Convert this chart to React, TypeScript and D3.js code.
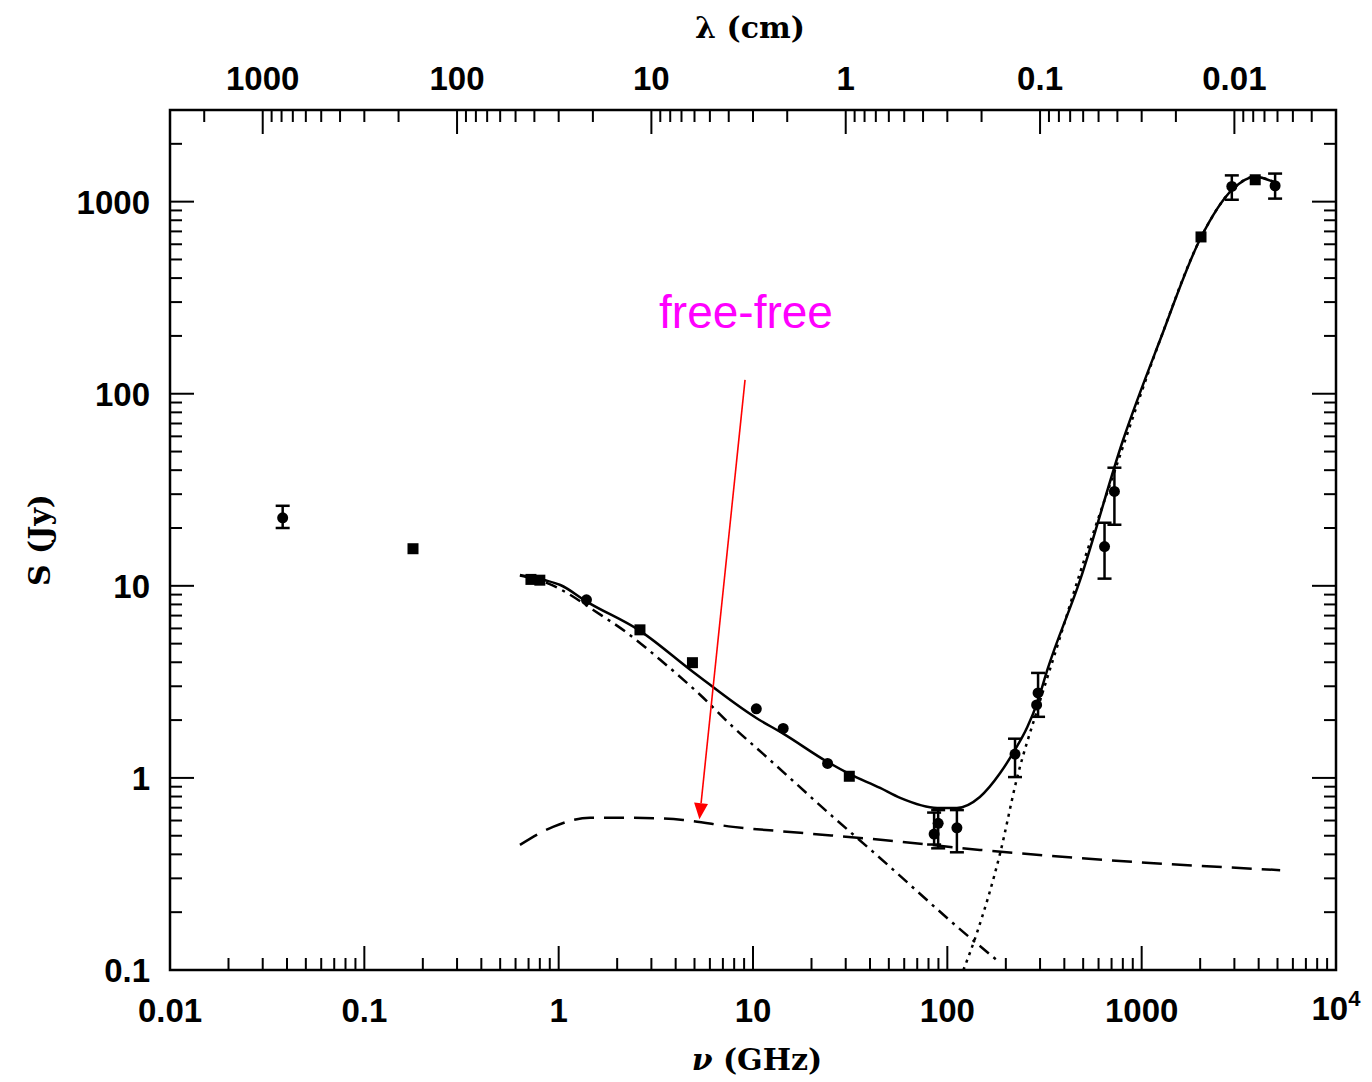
import React, { useEffect, useRef } from 'react'
import * as d3 from 'd3'

// observed flux densities (GHz, Jy)
const obsNu = [0.038, 0.178, 0.72, 0.8, 1.39, 2.62, 4.88, 10.4, 14.3, 24.2, 31.3, 85.5, 89.7, 112, 223, 288, 293, 644, 724, 2020, 2910, 3840, 4860]
const obsS = [22.6, 15.6, 10.8, 10.7, 8.46, 5.9, 3.98, 2.29, 1.81, 1.19, 1.02, 0.51, 0.58, 0.55, 1.33, 2.4, 2.77, 16.0, 31.0, 655, 1200, 1300, 1210]
const obsLo = [20.0, null, null, null, null, null, null, null, null, null, null, 0.45, 0.43, 0.41, 1.01, null, 2.08, 10.9, 20.8, null, 1023, null, 1037]
const obsHi = [26.1, null, null, null, null, null, null, null, null, null, null, 0.66, 0.68, 0.68, 1.6, null, 3.52, 21.3, 41.2, null, 1370, null, 1400]
const obsShape = ['c', 's', 's', 's', 'c', 's', 's', 'c', 'c', 'c', 's', 'c', 'c', 'c', 'c', 'c', 'c', 'c', 'c', 's', 'c', 's', 'c']

// model curves
const totalNu = [0.632, 0.851, 1.02, 1.4, 2.62, 4.92, 10.4, 14.3, 24.2, 31.3, 45.1, 57.2, 88.7, 112, 147, 187, 218, 258, 290, 327, 482, 803, 1245, 2024, 2924, 3838, 4864]
const totalS = [11.4, 10.7, 10.1, 8.25, 5.83, 3.56, 2.05, 1.7, 1.21, 1.05, 0.887, 0.787, 0.698, 0.698, 0.796, 1.06, 1.35, 1.84, 2.46, 3.65, 10.7, 57.6, 191, 655, 1155, 1349, 1256]
const ffNu = [0.632, 0.935, 1.45, 2.42, 4.37, 7.9, 17.5, 46.7, 147, 466, 5160]
const ffS = [0.448, 0.556, 0.62, 0.62, 0.604, 0.556, 0.518, 0.475, 0.422, 0.383, 0.331]
const syncNu = [0.632, 0.9, 1.1, 1.5, 2.25, 3.33, 5.34, 7.9, 11.8, 25.8, 41.5, 131, 187]
const syncS = [11.3, 10.2, 9.2, 7.5, 5.69, 4.12, 2.71, 1.84, 1.28, 0.627, 0.412, 0.147, 0.109]
const dustNu = [121, 142, 187, 229, 290, 367, 482, 730, 1245, 2024, 2924, 3838, 4864]
const dustS = [0.1, 0.156, 0.406, 1.01, 2.26, 4.81, 11.7, 40.2, 191, 655, 1155, 1349, 1256]

const nuTickLabels = ['0.01', '0.1', '1', '10', '100', '1000']
const sTickLabels = ['0.1', '1', '10', '100', '1000']
const lamTickLabels = ['1000', '100', '10', '1', '0.1', '0.01']

const W = 1372
const H = 1082

export default function App() {
  const ref = useRef(null)

  useEffect(() => {
    const svg = d3.select(ref.current)
    svg.selectAll('*').remove()

    const left = 170, right = 1336, top = 110, bottom = 970
    const x = d3.scaleLog().domain([0.01, 10000]).range([left, right])
    const y = d3.scaleLog().domain([0.1, 3000]).range([bottom, top])
    // wavelength in cm = 30 / nu(GHz)
    const xl = d3.scaleLog().domain([3000, 0.003]).range([left, right])

    const sans = "'Liberation Sans', Arial, sans-serif"
    const serif = "'DejaVu Serif', 'Liberation Serif', serif"

    const g = svg.append('g')

    const isMajor = (v) => Math.abs(Math.log10(v) - Math.round(Math.log10(v))) < 1e-6

    // bottom ticks (inward)
    x.ticks().forEach(v => {
      const len = isMajor(v) ? 24 : 12
      g.append('line').attr('x1', x(v)).attr('x2', x(v)).attr('y1', bottom).attr('y2', bottom - len)
        .attr('stroke', '#000').attr('stroke-width', 2)
    })
    // top ticks in wavelength
    xl.ticks().filter(v => v <= 3000 && v >= 0.003).forEach(v => {
      const len = isMajor(v) ? 24 : 12
      g.append('line').attr('x1', xl(v)).attr('x2', xl(v)).attr('y1', top).attr('y2', top + len)
        .attr('stroke', '#000').attr('stroke-width', 2)
    })
    // left and right ticks
    y.ticks().forEach(v => {
      const len = isMajor(v) ? 24 : 12
      g.append('line').attr('x1', left).attr('x2', left + len).attr('y1', y(v)).attr('y2', y(v))
        .attr('stroke', '#000').attr('stroke-width', 2)
      g.append('line').attr('x1', right).attr('x2', right - len).attr('y1', y(v)).attr('y2', y(v))
        .attr('stroke', '#000').attr('stroke-width', 2)
    })

    // frame
    g.append('rect').attr('x', left).attr('y', top).attr('width', right - left).attr('height', bottom - top)
      .attr('fill', 'none').attr('stroke', '#000').attr('stroke-width', 2.5)

    // tick labels
    nuTickLabels.forEach(t => {
      g.append('text').attr('x', x(+t)).attr('y', 1022).attr('text-anchor', 'middle')
        .attr('font-family', sans).attr('font-weight', 'bold').attr('font-size', 33).text(t)
    })
    const t4 = g.append('text').attr('x', x(10000)).attr('y', 1020).attr('text-anchor', 'middle')
      .attr('font-family', sans).attr('font-weight', 'bold').attr('font-size', 33)
    t4.append('tspan').text('10')
    t4.append('tspan').attr('dy', -14).attr('font-size', 22).text('4')

    sTickLabels.forEach(t => {
      g.append('text').attr('x', 150).attr('y', y(+t)).attr('dy', '0.36em').attr('text-anchor', 'end')
        .attr('font-family', sans).attr('font-weight', 'bold').attr('font-size', 33).text(t)
    })
    lamTickLabels.forEach(t => {
      g.append('text').attr('x', xl(+t)).attr('y', 90).attr('text-anchor', 'middle')
        .attr('font-family', sans).attr('font-weight', 'bold').attr('font-size', 33).text(t)
    })

    // axis titles
    g.append('text').attr('x', 750).attr('y', 38).attr('text-anchor', 'middle')
      .attr('font-family', serif).attr('font-weight', 'bold').attr('font-size', 30).text('λ (cm)')
    const xt = g.append('text').attr('x', 757).attr('y', 1070).attr('text-anchor', 'middle')
      .attr('font-family', serif).attr('font-weight', 'bold').attr('font-size', 30)
    xt.append('tspan').attr('font-style', 'italic').text('ν')
    xt.append('tspan').text(' (GHz)')
    g.append('text').attr('transform', 'translate(50,540) rotate(-90)').attr('text-anchor', 'middle')
      .attr('font-family', serif).attr('font-weight', 'bold').attr('font-size', 30).text('S (Jy)')

    // model curves
    const mkLine = d3.line().x(d => x(d[0])).y(d => y(d[1])).curve(d3.curveMonotoneX)
    const drawCurve = (nus, ss, dash, width) => {
      g.append('path').datum(nus.map((n, i) => [n, ss[i]]))
        .attr('fill', 'none').attr('stroke', '#000').attr('stroke-width', width)
        .attr('stroke-dasharray', dash).attr('d', mkLine)
    }
    drawCurve(ffNu, ffS, '20,10', 2.5)
    drawCurve(syncNu, syncS, '12,6,3,6', 2.5)
    drawCurve(dustNu, dustS, '3,5', 2.5)
    drawCurve(totalNu, totalS, null, 2.5)

    // error bars
    obsNu.forEach((n, i) => {
      if (obsLo[i] == null) return
      const cx = x(n)
      g.append('line').attr('x1', cx).attr('x2', cx).attr('y1', y(obsLo[i])).attr('y2', y(obsHi[i]))
        .attr('stroke', '#000').attr('stroke-width', 2.5)
      ;[obsLo[i], obsHi[i]].forEach(v => {
        g.append('line').attr('x1', cx - 7).attr('x2', cx + 7).attr('y1', y(v)).attr('y2', y(v))
          .attr('stroke', '#000').attr('stroke-width', 2.5)
      })
    })
    // markers
    obsNu.forEach((n, i) => {
      if (obsShape[i] === 's') {
        g.append('rect').attr('x', x(n) - 5.5).attr('y', y(obsS[i]) - 5.5).attr('width', 11).attr('height', 11).attr('fill', '#000')
      } else {
        g.append('circle').attr('cx', x(n)).attr('cy', y(obsS[i])).attr('r', 5.5).attr('fill', '#000')
      }
    })

    // annotation
    g.append('text').attr('x', 746).attr('y', 328).attr('text-anchor', 'middle')
      .attr('font-family', sans).attr('font-size', 46).attr('fill', '#ff00ff').text('free-free')
    const tail = [9.1, 118], tip = [5.3, 0.61]
    const x0 = x(tail[0]), y0 = y(tail[1]), x1 = x(tip[0]), y1 = y(tip[1])
    const ang = Math.atan2(y1 - y0, x1 - x0)
    const hl = 16, hw = 7
    const bx = x1 - hl * Math.cos(ang), by = y1 - hl * Math.sin(ang)
    g.append('line').attr('x1', x0).attr('y1', y0).attr('x2', bx).attr('y2', by)
      .attr('stroke', '#ff0000').attr('stroke-width', 1.6)
    g.append('path')
      .attr('d', `M${x1},${y1}L${bx + hw * Math.sin(ang)},${by - hw * Math.cos(ang)}L${bx - hw * Math.sin(ang)},${by + hw * Math.cos(ang)}Z`)
      .attr('fill', '#ff0000')
  }, [])

  return (
    <svg ref={ref} width={W} height={H}
      style={{ position: 'absolute', left: 0, top: 0, background: '#fff' }} />
  )
}
